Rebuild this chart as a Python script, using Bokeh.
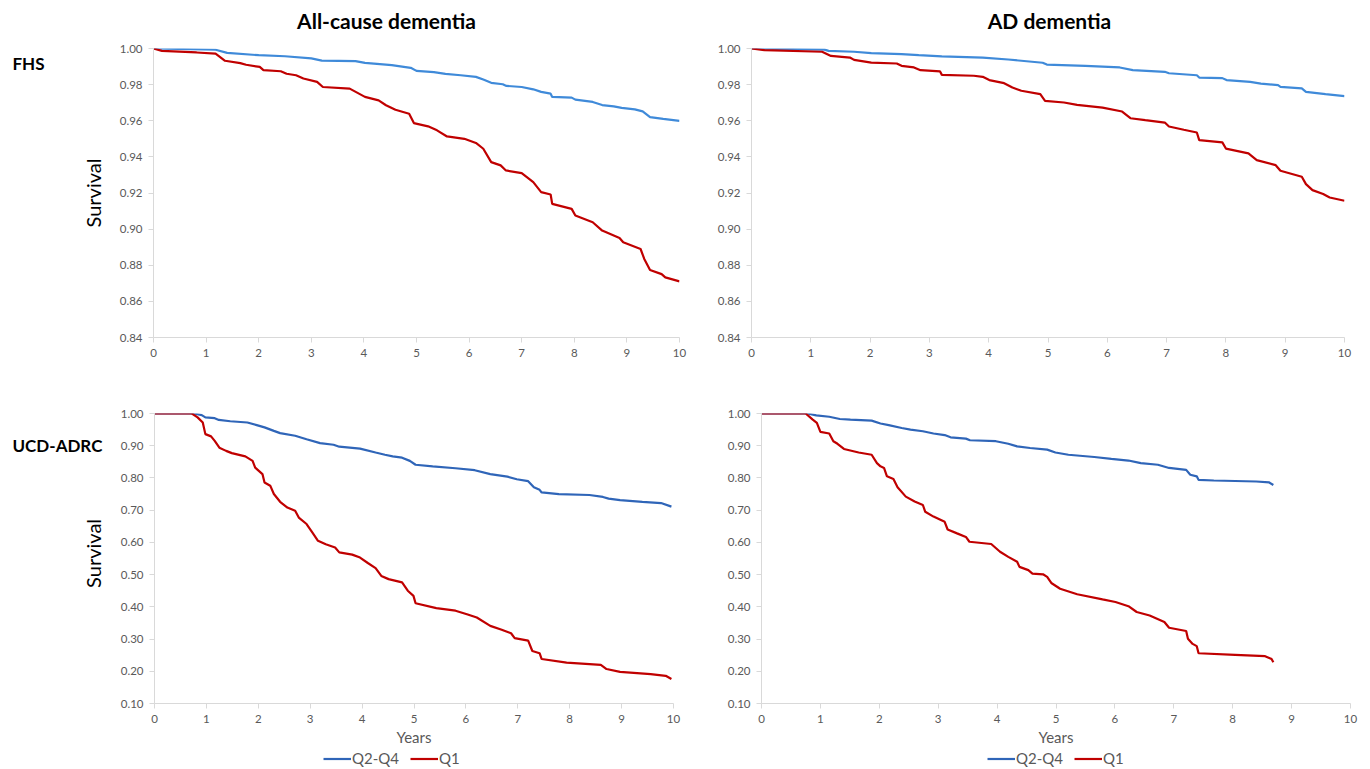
import math
from bokeh.plotting import figure
from bokeh.layouts import column, row
from bokeh.models import Range1d, Legend, LegendItem, FixedTicker, NumeralTickFormatter
from bokeh.core.properties import value
from bokeh.embed import file_html
from bokeh.resources import INLINE

# ---------------- data ----------------
col_titles = ["All-cause dementia", "AD dementia"]
row_titles = ["FHS", "UCD-ADRC"]
series_names = ["Q2-Q4", "Q1"]
y_title = "Survival"
x_title = "Years"
x_ticks = [0, 1, 2, 3, 4, 5, 6, 7, 8, 9, 10]
fhs_y_ticks = [0.84, 0.86, 0.88, 0.90, 0.92, 0.94, 0.96, 0.98, 1.00]
ucd_y_ticks = [0.10, 0.20, 0.30, 0.40, 0.50, 0.60, 0.70, 0.80, 0.90, 1.00]

fhs_all_q24_x = [0, 1.18, 1.4, 2.0, 2.5, 3.0, 3.2, 3.84, 4.02, 4.53, 4.89, 5.0, 5.33, 5.55, 5.84, 6.13, 6.27, 6.42,
                 6.64, 6.71, 7.0, 7.22, 7.37, 7.55, 7.58, 7.95, 8.02, 8.35, 8.53, 8.75, 8.9, 9.15, 9.3, 9.44, 9.69, 10.0]
fhs_all_q24_y = [1.0, 0.9993, 0.9976, 0.9963, 0.9957, 0.9945, 0.9933, 0.993, 0.992, 0.9908, 0.9893, 0.9876, 0.9869,
                 0.986, 0.9852, 0.9843, 0.9828, 0.981, 0.9802, 0.9793, 0.9787, 0.9774, 0.976, 0.975, 0.9732, 0.9728,
                 0.9717, 0.9704, 0.9687, 0.968, 0.9671, 0.9663, 0.9652, 0.962, 0.961, 0.9599]

fhs_all_q1_x = [0, 0.16, 0.82, 1.18, 1.36, 1.65, 1.76, 2.02, 2.09, 2.42, 2.53, 2.71, 2.85, 3.11, 3.22, 3.73, 4.02,
                4.28, 4.42, 4.6, 4.86, 4.95, 5.22, 5.39, 5.58, 5.91, 6.13, 6.27, 6.42, 6.6, 6.7, 7.0, 7.22, 7.37,
                7.55, 7.58, 7.95, 8.02, 8.35, 8.53, 8.86, 8.93, 9.26, 9.33, 9.44, 9.66, 9.73, 10.0]
fhs_all_q1_y = [1.0, 0.9987, 0.9978, 0.9972, 0.9932, 0.9919, 0.991, 0.9898, 0.988, 0.9874, 0.986, 0.9852, 0.9834,
                0.9815, 0.9787, 0.9778, 0.9732, 0.9713, 0.9686, 0.9661, 0.9639, 0.9587, 0.9569, 0.9547, 0.9513, 0.95,
                0.9477, 0.9445, 0.9371, 0.9353, 0.9325, 0.931, 0.926, 0.9205, 0.9192, 0.914, 0.9112, 0.9075, 0.9038,
                0.8992, 0.8951, 0.8927, 0.889, 0.8835, 0.8774, 0.8751, 0.8733, 0.8711]

fhs_ad_q24_x = [0, 1.23, 1.3, 1.73, 2.02, 2.53, 2.82, 3.21, 3.9, 4.33, 4.91, 4.98, 5.63, 6.21, 6.43, 6.97, 7.04,
                7.51, 7.55, 7.94, 8.01, 8.41, 8.59, 8.88, 8.92, 9.28, 9.35, 9.68, 10.0]
fhs_ad_q24_y = [1.0, 0.9994, 0.9987, 0.9982, 0.9974, 0.9969, 0.9963, 0.9956, 0.995, 0.9939, 0.9921, 0.9911, 0.9904,
                0.9895, 0.988, 0.9871, 0.9863, 0.9852, 0.9839, 0.9836, 0.9825, 0.9815, 0.9806, 0.9797, 0.9788,
                0.9779, 0.976, 0.9747, 0.9736]

fhs_ad_q1_x = [0, 0.22, 1.19, 1.34, 1.66, 1.73, 2.02, 2.45, 2.53, 2.74, 2.85, 3.18, 3.21, 3.75, 3.9, 4.01, 4.26,
               4.4, 4.55, 4.87, 4.95, 5.27, 5.49, 5.92, 6.25, 6.39, 6.64, 6.97, 7.04, 7.29, 7.51, 7.55, 7.94, 8.0,
               8.38, 8.52, 8.84, 8.92, 9.28, 9.35, 9.46, 9.64, 9.75, 10.0]
fhs_ad_q1_y = [1.0, 0.9991, 0.9982, 0.9959, 0.995, 0.9937, 0.9922, 0.9917, 0.9904, 0.9895, 0.988, 0.9873, 0.9854,
               0.9849, 0.9843, 0.9825, 0.9808, 0.9784, 0.9766, 0.9747, 0.971, 0.9701, 0.9688, 0.9673, 0.9651, 0.9614,
               0.9603, 0.959, 0.9568, 0.955, 0.9535, 0.9493, 0.948, 0.9446, 0.9419, 0.9382, 0.9354, 0.9323, 0.929,
               0.9249, 0.9216, 0.9194, 0.9175, 0.9157]

ucd_all_q24_x = [0, 0.76, 0.91, 0.98, 1.16, 1.24, 1.46, 1.79, 1.97, 2.12, 2.3, 2.42, 2.71, 2.93, 3.19, 3.45, 3.56,
                 3.96, 4.26, 4.44, 4.59, 4.77, 4.92, 5.03, 5.36, 5.8, 6.17, 6.47, 6.8, 6.98, 7.2, 7.31, 7.42, 7.46,
                 7.79, 8.38, 8.64, 8.75, 8.97, 9.4, 9.76, 9.96]
ucd_all_q24_y = [1.0, 1.0, 0.995, 0.988, 0.9855, 0.98, 0.976, 0.972, 0.964, 0.957, 0.946, 0.939, 0.931, 0.92, 0.908,
                 0.903, 0.897, 0.891, 0.879, 0.872, 0.867, 0.863, 0.853, 0.841, 0.836, 0.83, 0.824, 0.812, 0.804,
                 0.796, 0.79, 0.771, 0.763, 0.755, 0.75, 0.747, 0.741, 0.736, 0.731, 0.726, 0.722, 0.711]

ucd_all_q1_x = [0, 0.72, 0.83, 0.93, 0.98, 1.09, 1.16, 1.25, 1.38, 1.49, 1.75, 1.89, 1.94, 2.01, 2.08, 2.12, 2.23,
                2.3, 2.42, 2.56, 2.71, 2.78, 2.93, 3.04, 3.15, 3.3, 3.48, 3.56, 3.81, 3.96, 4.11, 4.26, 4.37, 4.51,
                4.77, 4.88, 4.99, 5.03, 5.43, 5.8, 6.02, 6.21, 6.47, 6.69, 6.87, 6.94, 7.2, 7.28, 7.42, 7.46, 7.94,
                8.6, 8.71, 8.97, 9.56, 9.85, 9.96]
ucd_all_q1_y = [1.0, 1.0, 0.988, 0.972, 0.936, 0.929, 0.915, 0.894, 0.884, 0.877, 0.867, 0.853, 0.832, 0.822, 0.812,
                0.786, 0.776, 0.75, 0.726, 0.708, 0.698, 0.677, 0.657, 0.631, 0.605, 0.594, 0.584, 0.569, 0.562,
                0.553, 0.536, 0.52, 0.496, 0.486, 0.476, 0.45, 0.434, 0.411, 0.396, 0.388, 0.377, 0.367, 0.341,
                0.329, 0.318, 0.303, 0.295, 0.263, 0.256, 0.238, 0.227, 0.22, 0.207, 0.198, 0.191, 0.186, 0.176]

ucd_ad_q24_x = [0, 0.78, 0.93, 1.15, 1.33, 1.51, 1.87, 2.02, 2.16, 2.38, 2.53, 2.74, 2.92, 3.11, 3.21, 3.47, 3.54,
                3.98, 4.19, 4.34, 4.56, 4.85, 4.99, 5.21, 5.65, 5.94, 6.23, 6.44, 6.73, 6.92, 7.21, 7.28, 7.39, 7.42,
                7.68, 8.4, 8.62, 8.69]
ucd_ad_q24_y = [1.0, 1.0, 0.994, 0.99, 0.983, 0.981, 0.978, 0.969, 0.964, 0.955, 0.95, 0.945, 0.938, 0.933, 0.926,
                0.922, 0.917, 0.914, 0.906, 0.898, 0.893, 0.888, 0.879, 0.872, 0.865, 0.859, 0.854, 0.846, 0.841,
                0.831, 0.825, 0.81, 0.805, 0.794, 0.792, 0.789, 0.786, 0.778]

ucd_ad_q1_x = [0, 0.75, 0.87, 0.94, 1.0, 1.15, 1.22, 1.29, 1.4, 1.65, 1.87, 1.96, 2.02, 2.08, 2.13, 2.24, 2.31,
               2.45, 2.6, 2.74, 2.78, 2.92, 3.11, 3.16, 3.32, 3.47, 3.53, 3.9, 4.05, 4.19, 4.34, 4.38, 4.53, 4.6,
               4.78, 4.85, 4.92, 5.07, 5.36, 5.79, 6.01, 6.23, 6.37, 6.59, 6.84, 6.92, 7.21, 7.24, 7.32, 7.39, 7.42,
               8.04, 8.55, 8.66, 8.69]
ucd_ad_q1_y = [1.0, 1.0, 0.981, 0.971, 0.943, 0.938, 0.914, 0.906, 0.89, 0.879, 0.872, 0.846, 0.836, 0.831, 0.805,
               0.797, 0.771, 0.742, 0.727, 0.716, 0.695, 0.68, 0.664, 0.64, 0.628, 0.617, 0.602, 0.595, 0.571, 0.555,
               0.54, 0.524, 0.514, 0.503, 0.501, 0.493, 0.474, 0.456, 0.439, 0.423, 0.415, 0.402, 0.384, 0.373,
               0.353, 0.335, 0.325, 0.301, 0.285, 0.278, 0.256, 0.251, 0.247, 0.238, 0.228]

# ---------------- styling ----------------
FONT = "Lato"
AXIS_GRAY = "#d9d9d9"
TICK_TEXT = "#595959"
RED = "#c00000"
BLUE_TOP = "#3f8ad9"
BLUE_BOT = "#2f65b8"


def text_fig(width, height):
    """A blank canvas (pixel coordinates, y downward) used only for free-standing texts / legends."""
    p = figure(width=width, height=height, output_backend="svg", toolbar_location=None,
               x_range=Range1d(0, width), y_range=Range1d(height, 0),
               min_border=0, min_border_left=0, min_border_right=0, min_border_top=0, min_border_bottom=0)
    p.axis.visible = False
    p.grid.visible = False
    p.outline_line_color = None
    return p


def make_fig(width, height, bl, br, bt, bb, y0, y1, yticks):
    p = figure(width=width, height=height, output_backend="svg", toolbar_location=None,
               x_range=Range1d(0, 10), y_range=Range1d(y0, y1),
               min_border_left=bl, min_border_right=br, min_border_top=bt, min_border_bottom=bb)
    p.outline_line_color = None
    p.xgrid.visible = False
    p.ygrid.visible = False
    p.xaxis.ticker = FixedTicker(ticks=x_ticks)
    p.yaxis.ticker = FixedTicker(ticks=yticks)
    p.yaxis.formatter = NumeralTickFormatter(format="0.00")
    for ax in (p.xaxis[0], p.yaxis[0]):
        ax.axis_line_color = AXIS_GRAY
        ax.axis_line_width = 1
        ax.major_tick_line_color = AXIS_GRAY
        ax.major_tick_out = 5
        ax.major_tick_in = 0
        ax.minor_tick_line_color = None
        ax.major_label_text_font = FONT
        ax.major_label_text_font_size = "11.5px"
        ax.major_label_text_color = TICK_TEXT
        ax.major_label_standoff = 6
    return p


def add_curves(p, xq24, yq24, xq1, yq1, blue, visible=True):
    rb = p.line(xq24, yq24, line_color=blue, line_width=2.2, visible=visible)
    rr = p.line(xq1, yq1, line_color=RED, line_width=2.2, visible=visible)
    return rb, rr


def add_years(p):
    ax = p.xaxis[0]
    ax.axis_label = x_title
    ax.axis_label_text_font = FONT
    ax.axis_label_text_font_size = "15px"
    ax.axis_label_text_font_style = "normal"
    ax.axis_label_text_color = TICK_TEXT
    ax.axis_label_standoff = 2


# ---- header strip with column titles ----
header = text_fig(1362, 40)
header.text(x=[386, 1049], y=[20, 20], text=col_titles, text_font=value(FONT), text_font_style="bold",
            text_font_size="21px", text_align="center", text_baseline="middle", text_color="black")

# ---- left strips with row titles and y-axis title ----
left_top = text_fig(108, 338)
left_top.text(x=[12], y=[17], text=[row_titles[0]], text_font=value(FONT), text_font_style="bold",
              text_font_size="17px", text_align="left", text_baseline="middle", text_color="black")
left_top.text(x=[92], y=[169], text=[y_title], text_font=value(FONT), text_font_size="20px",
              text_align="center", text_baseline="middle", text_color="black", angle=math.pi / 2)

left_bot = text_fig(108, 371)
left_bot.text(x=[12], y=[41], text=[row_titles[1]], text_font=value(FONT), text_font_style="bold",
              text_font_size="17px", text_align="left", text_baseline="middle", text_color="black")
left_bot.text(x=[92], y=[179], text=[y_title], text_font=value(FONT), text_font_size="20px",
              text_align="center", text_baseline="middle", text_color="black", angle=math.pi / 2)

# Top-left: FHS, all-cause
p1 = make_fig(600, 338, 45, 29, 8, 41, 0.84, 1.00, fhs_y_ticks)
add_curves(p1, fhs_all_q24_x, fhs_all_q24_y, fhs_all_q1_x, fhs_all_q1_y, BLUE_TOP)

# Top-right: FHS, AD
p2 = make_fig(654, 338, 43, 18, 8, 41, 0.84, 1.00, fhs_y_ticks)
add_curves(p2, fhs_ad_q24_x, fhs_ad_q24_y, fhs_ad_q1_x, fhs_ad_q1_y, BLUE_TOP)

# Bottom-left: UCD-ADRC, all-cause
p3 = make_fig(600, 371, 46, 35, 35, 45, 0.10, 1.00, ucd_y_ticks)
add_curves(p3, ucd_all_q24_x, ucd_all_q24_y, ucd_all_q1_x, ucd_all_q1_y, BLUE_BOT)
add_years(p3)

# Bottom-right: UCD-ADRC, AD
p4 = make_fig(654, 371, 53, 12, 35, 46, 0.10, 1.00, ucd_y_ticks)
add_curves(p4, ucd_ad_q24_x, ucd_ad_q24_y, ucd_ad_q1_x, ucd_ad_q1_y, BLUE_BOT)
add_years(p4)

# ---- legend strip: one legend under each bottom panel ----
# The strip holds hidden copies of the series so that each legend refers to real renderers.
leg_strip = text_fig(1362, 19)
sw_left = add_curves(leg_strip, ucd_all_q24_x, ucd_all_q24_y, ucd_all_q1_x, ucd_all_q1_y, BLUE_BOT, visible=False)
sw_right = add_curves(leg_strip, ucd_ad_q24_x, ucd_ad_q24_y, ucd_ad_q1_x, ucd_ad_q1_y, BLUE_BOT, visible=False)
for sw, xloc in ((sw_left, 323), (sw_right, 987)):
    lg = Legend(items=[LegendItem(label=series_names[0], renderers=[sw[0]]),
                       LegendItem(label=series_names[1], renderers=[sw[1]])],
                orientation="horizontal", location=(xloc, 1), padding=0, margin=0, spacing=11,
                label_standoff=1, glyph_width=28, glyph_height=17, label_height=17,
                label_text_font=FONT, label_text_font_size="15px", label_text_color=TICK_TEXT,
                border_line_color=None, background_fill_alpha=0,
                inactive_fill_alpha=0, click_policy="none")
    leg_strip.add_layout(lg)

layout = column(header, row(left_top, p1, p2), row(left_bot, p3, p4), leg_strip)
open("out.html", "w").write(file_html(layout, INLINE))
